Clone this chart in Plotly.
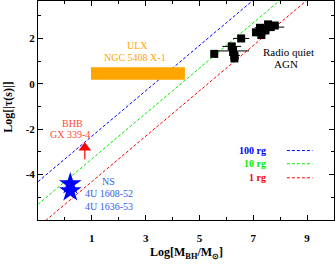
import plotly.graph_objects as go

# ---- data ----
line_labels = ["100 rg", "10 rg", "1 rg"]
line_offsets = [-3.31, -4.31, -5.31]          # log t = log M + offset
line_colors = ["#0000ff", "#00ee00", "#ff0000"]
line_x = [-1.0, 10.0]

agn_x = [5.55, 6.2, 6.25, 6.3, 6.3, 6.55, 7.1, 7.25, 7.3, 7.45, 7.55, 7.65, 7.8]
agn_y = [1.32, 1.65, 1.45, 1.25, 1.12, 2.0, 2.27, 2.47, 2.15, 2.35, 2.62, 2.5, 2.57]
agn_xerr = [0.1, 0.35, 0.6, 0.2, 0.15, 0.3, 0.1, 0.2, 0.1, 0.15, 0.1, 0.5, 0.1]

ulx_x = [0.97, 4.46]
ulx_y = [0.18, 0.73]

bhb_x = [0.74]
bhb_y = [-2.82]
bhb_down = [0.5]

ns_x = [0.2, 0.2]
ns_y = [-4.41, -4.72]

x_ticks = [1, 3, 5, 7, 9]
y_ticks = [-4, -2, 0, 2]

SERIF = "Liberation Serif"

fig = go.Figure()

# diagonal r_g lines
for lab, off, col in zip(line_labels, line_offsets, line_colors):
    fig.add_trace(go.Scatter(x=line_x, y=[v + off for v in line_x], mode="lines",
                             line=dict(color=col, width=1, dash="3px,2px"),
                             showlegend=False, hoverinfo="skip"))

# ULX rectangle
fig.add_trace(go.Scatter(x=[ulx_x[0], ulx_x[1], ulx_x[1], ulx_x[0], ulx_x[0]],
                         y=[ulx_y[0], ulx_y[0], ulx_y[1], ulx_y[1], ulx_y[0]],
                         mode="lines", fill="toself", fillcolor="#ffa500",
                         line=dict(color="#ffa500", width=0), showlegend=False))

# AGN
fig.add_trace(go.Scatter(x=agn_x, y=agn_y, mode="markers",
                         marker=dict(symbol="square", size=8, color="black"),
                         error_x=dict(type="data", array=agn_xerr, color="black",
                                      thickness=1, width=0),
                         showlegend=False))

# BHB
fig.add_trace(go.Scatter(x=bhb_x, y=bhb_y, mode="markers",
                         marker=dict(symbol="triangle-up", size=11, color="#ff0000"),
                         error_y=dict(type="data", array=[0], arrayminus=bhb_down,
                                      color="#ff0000", thickness=1.2, width=0),
                         showlegend=False))

# NS
fig.add_trace(go.Scatter(x=ns_x, y=ns_y, mode="markers",
                         marker=dict(symbol="star", size=17, color="#0000ff"),
                         showlegend=False))

def ann(text, x, y, color, size=10, bold=False, xanchor="center"):
    fig.add_annotation(x=x, y=y, text=f"<b>{text}</b>" if bold else text,
                       showarrow=False, xanchor=xanchor, yanchor="middle",
                       font=dict(family=SERIF, size=size, color=color))

ann("ULX", 2.68, 1.69, "#ffa500", 10)
ann("NGC 5408 X-1", 2.6, 1.16, "#ffa500", 10)
ann("Radio quiet", 8.3, 1.4, "black", 11)
ann("AGN", 8.2, 0.88, "black", 11)
ann("BHB", 0.28, -1.74, "#ff4a30", 10)
ann("GX 339-4", 0.2, -2.24, "#ff4a30", 10)
ann("NS", 1.63, -4.3, "#3060e8", 10)
ann("4U 1608-52", 1.63, -4.83, "#3060e8", 10)
ann("4U 1636-53", 1.63, -5.42, "#3060e8", 10)

# legend
leg_y = [-2.94, -3.52, -4.14]
for lab, col, ly in zip(line_labels, line_colors, leg_y):
    ann(lab, 7.55, ly, col, 10, bold=True, xanchor="right")
    fig.add_shape(type="line", xref="x", yref="y", x0=8.25, x1=9.2, y0=ly, y1=ly,
                  line=dict(color=col, width=1, dash="3px,2px"))

# axis titles
fig.add_annotation(xref="paper", yref="paper", x=0.5, y=-0.151,
                   text="<b>Log[M<sub>BH</sub>/M<sub>⊙</sub>]</b>", showarrow=False,
                   xanchor="center", yanchor="middle",
                   font=dict(family=SERIF, size=12, color="black"))
fig.add_annotation(xref="paper", yref="paper", x=-0.1, y=0.514,
                   text="<b>Log[|τ(s)|]</b>", showarrow=False, textangle=-90,
                   xanchor="center", yanchor="middle",
                   font=dict(family=SERIF, size=12, color="black"))

axis_common = dict(showgrid=False, zeroline=False, showline=True, linecolor="black",
                   linewidth=1, mirror="allticks", ticks="inside", ticklen=5,
                   tickcolor="black", tickwidth=1, automargin=False,
                   tickfont=dict(family=SERIF, size=11, color="black"))

fig.update_xaxes(range=[-1, 10], tickvals=x_ticks, ticktext=[f"<b>{t}</b>" for t in x_ticks],
                 minor=dict(dtick=1, tick0=0, ticks="inside", ticklen=3, tickcolor="black"),
                 ticklabelstandoff=8, **axis_common)
fig.update_yaxes(range=[-6, 3.65], tickvals=y_ticks, ticktext=[f"<b>{t}</b>" for t in y_ticks],
                 minor=dict(dtick=1, tick0=0, ticks="inside", ticklen=3, tickcolor="black"),
                 ticklabelstandoff=0, **axis_common)

fig.update_layout(width=336, height=264, margin=dict(l=38, r=2, t=1, b=44),
                  plot_bgcolor="white", paper_bgcolor="white")

fig.write_html("out.html", config={"displayModeBar": False},
               post_script="document.body.style.margin='0';document.body.style.overflow='hidden';")
